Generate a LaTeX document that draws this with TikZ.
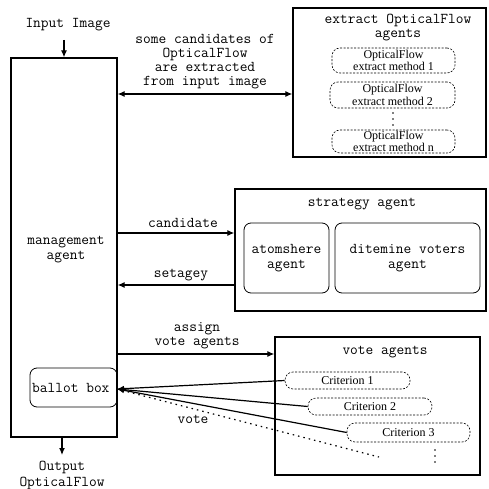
\documentclass[tikz,border=0pt]{standalone}
\usepackage{fontspec}
\newfontfamily\serifbox{Liberation Serif}
\usetikzlibrary{arrows.meta}
\tikzset{
  mono/.style={font=\ttfamily\fontsize{15}{14}\selectfont, align=center, inner sep=0pt},
  box/.style={draw, line width=1.3pt, inner sep=0pt},
  rbox/.style={draw, line width=0.8pt, rounded corners=7pt, inner sep=0pt},
  dbox/.style={draw, line width=0.6pt, dash pattern=on 2pt off 1.5pt, rounded corners=8pt, inner sep=0pt,
     font=\serifbox\fontsize{12}{12.5}\selectfont, align=center},
  arr/.style={line width=1.2pt, -{Latex[length=7pt,width=6pt]}},
  darr/.style={line width=1.2pt, {Latex[length=7pt,width=6pt]}-{Latex[length=7pt,width=6pt]}},
  dotsmall/.style={circle, fill, inner sep=0pt, minimum size=1.8pt}
}
\begin{document}
\begin{tikzpicture}[x=1pt,y=-1pt]
\useasboundingbox (0,0) rectangle (488,489);
% management
\node[box, minimum width=106pt, minimum height=379pt] (mgmt) at (64,247.5) {};
\node[mono, font=\ttfamily\fontsize{15}{15}\selectfont] (mgmttext) at (66,249.5) {management\\agent};
\node[rbox, minimum width=87pt, minimum height=39pt] (ballot) at (73.5,387.5) {};
\node[mono, anchor=west] (ballottext) at (32,388) {ballot box};
% input/output
\node[mono] (input) at (68,25) {Input Image};
\coordinate (inTop) at (64,40);
\draw[arr] (inTop) -- (inTop |- mgmt.north);
\coordinate (outEnd) at (62,455);
\draw[arr] (outEnd |- mgmt.south) -- (outEnd);
\node[mono, font=\ttfamily\fontsize{15}{16}\selectfont] (output) at (62,475) {Output\\OpticalFlow};
% extract
\node[box, minimum width=193pt, minimum height=149pt] (extract) at (389.5,82.5) {};
\node[mono] (extitle) at (398,28) {extract OpticalFlow\\agents};
\node[dbox, minimum width=123pt, minimum height=25pt] (m1) at (393.5,60.5) {OpticalFlow\\extract method 1};
\node[dbox, minimum width=125pt, minimum height=26pt] (m2) at (392.5,95) {OpticalFlow\\extract method 2};
\node[dbox, minimum width=123pt, minimum height=23pt] (m3) at (393.5,141.5) {OpticalFlow\\extract method n};
\node[dotsmall] (ed1) at (393,113) {};
\node[dotsmall] (ed2) at (393,119) {};
\node[dotsmall] (ed3) at (393,125) {};
\coordinate (exY) at (0,94);
\draw[darr] (mgmt.east |- exY) -- (extract.west |- exY);
\node[mono] (exlabel) at (205,62) {some candidates of\\OpticalFlow\\are extracted\\from input image};
% strategy
\node[box, minimum width=251pt, minimum height=122pt] (strat) at (360.5,250) {};
\node[mono] (strattitle) at (362,204) {strategy agent};
\node[rbox, minimum width=85pt, minimum height=70pt, mono, font=\ttfamily\fontsize{15}{14.5}\selectfont] (atm) at (286.5,258) {atomshere\\agent};
\node[rbox, minimum width=145pt, minimum height=70pt, mono, font=\ttfamily\fontsize{15}{15}\selectfont] (dit) at (407.5,258) {ditemine voters\\agent};
\coordinate (candY) at (0,233);
\coordinate (setY) at (0,285);
\draw[arr] (mgmt.east |- candY) -- (strat.west |- candY);
\draw[arr] (strat.west |- setY) -- (mgmt.east |- setY);
\node[mono] (candlabel) at (183,223) {candidate};
\node[mono] (setlabel) at (181,275) {setagey};
% vote
\node[box, minimum width=205pt, minimum height=138pt] (vote) at (377.5,406) {};
\node[mono] (votetitle) at (385,352) {vote agents};
\node[dbox, minimum width=125pt, minimum height=17pt] (c1) at (347.5,380.5) {Criterion 1};
\node[dbox, minimum width=124pt, minimum height=17pt] (c2) at (370,406.5) {Criterion 2};
\node[dbox, minimum width=123pt, minimum height=19pt] (c3) at (408.5,432.5) {Criterion 3};
\node[dotsmall] (vd1) at (435,450) {};
\node[dotsmall] (vd2) at (435,456) {};
\node[dotsmall] (vd3) at (435,462) {};
\coordinate (assignY) at (0,354);
\draw[arr] (mgmt.east |- assignY) -- (vote.west |- assignY);
\node[mono] (assignlabel) at (197,336) {assign\\vote agents};
\coordinate (bb) at (117,389);
\draw[arr] (c1.west) -- (bb);
\draw[arr] (c2.west) -- (bb);
\draw[arr] (c3.west) -- (bb);
\coordinate (dotEnd) at (379,457);
\draw[line width=1.2pt, dash pattern=on 1.5pt off 4pt] (bb) -- (dotEnd);
\node[mono] (votelabel) at (193,419) {vote};
\end{tikzpicture}
\end{document}
